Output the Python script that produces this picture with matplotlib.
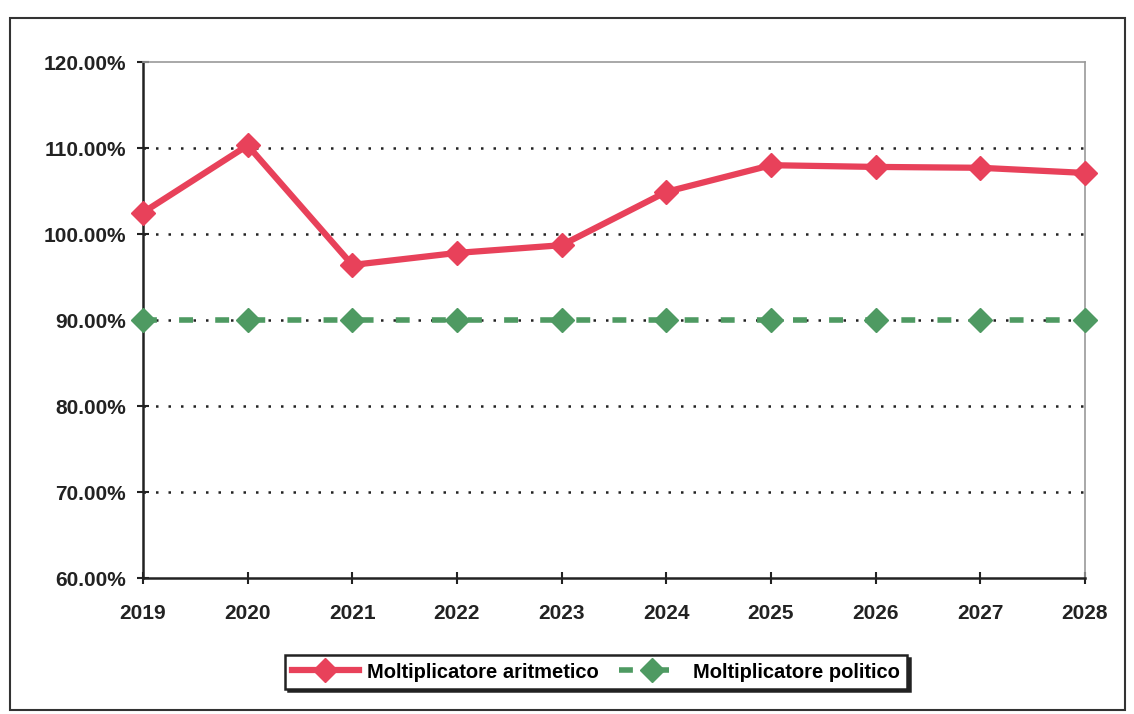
import matplotlib
matplotlib.use("Agg")
import matplotlib.pyplot as plt
from matplotlib.patches import Rectangle
from matplotlib.ticker import FuncFormatter

years = [2019, 2020, 2021, 2022, 2023, 2024, 2025, 2026, 2027, 2028]
aritmetico = [102.5, 110.3, 96.4, 97.8, 98.7, 104.9, 108.0, 107.8, 107.7, 107.1]
politico = [90.0, 90.0, 90.0, 90.0, 90.0, 90.0, 90.0, 90.0, 90.0, 90.0]
series_labels = ["Moltiplicatore aritmetico", "Moltiplicatore politico"]

plt.rcParams['font.family'] = ['Liberation Sans', 'DejaVu Sans']
plt.rcParams['font.weight'] = 'bold'

fig = plt.figure(figsize=(11.34, 7.14), dpi=100)
ax = fig.add_axes([143/1134, 1-578/714, (1085-143)/1134, (578-62)/714])

red = '#E8415A'
green = '#4E9A62'

ax.plot(years, aritmetico, color=red, lw=4.5, marker='D', markersize=12,
        markeredgecolor=red, label=series_labels[0], zorder=4, clip_on=False)
ax.plot(years, politico, color=green, lw=4, marker='D', markersize=12,
        markeredgecolor=green, dashes=(2.5, 4), label=series_labels[1], zorder=3,
        clip_on=False)

ax.set_xlim(2019, 2028)
ax.set_ylim(60, 120)
ax.set_xticks(years)
ax.set_yticks([60, 70, 80, 90, 100, 110, 120])
ax.yaxis.set_major_formatter(FuncFormatter(lambda v, p: f"{v:.2f}%"))
for y in [70, 80, 90, 100, 110]:
    ax.axhline(y, color='#222222', lw=1.8, ls=(0, (1, 4)), zorder=1)

for s in ['left', 'bottom']:
    ax.spines[s].set_color('#222222')
    ax.spines[s].set_linewidth(1.8)
for s in ['top', 'right']:
    ax.spines[s].set_color('#999999')
    ax.spines[s].set_linewidth(1.2)
ax.tick_params(axis='both', direction='inout', length=9, width=1.5, color='#222222',
               labelsize=15, labelcolor='#222222')
ax.tick_params(axis='x', pad=14)
ax.tick_params(axis='y', pad=8)
for lbl in ax.get_xticklabels() + ax.get_yticklabels():
    lbl.set_fontweight('bold')

leg = fig.legend(loc='center', bbox_to_anchor=(596/1134, 1-672/714), ncol=2,
                 frameon=True, shadow={'color': '#222222', 'alpha': 1}, fancybox=False,
                 edgecolor='#222222', handlelength=3.3, handletextpad=0.4,
                 columnspacing=1.0, prop={'weight': 'bold', 'size': 14.5},
                 borderpad=0.35, borderaxespad=0.2)
leg.get_frame().set_linewidth(1.8)

fig.patches.append(Rectangle((10/1134, 1-710/714), (1125-10)/1134, (710-18)/714,
                             transform=fig.transFigure, fill=False,
                             edgecolor='#333333', lw=1.5))

fig.savefig('out.png', dpi=100)
